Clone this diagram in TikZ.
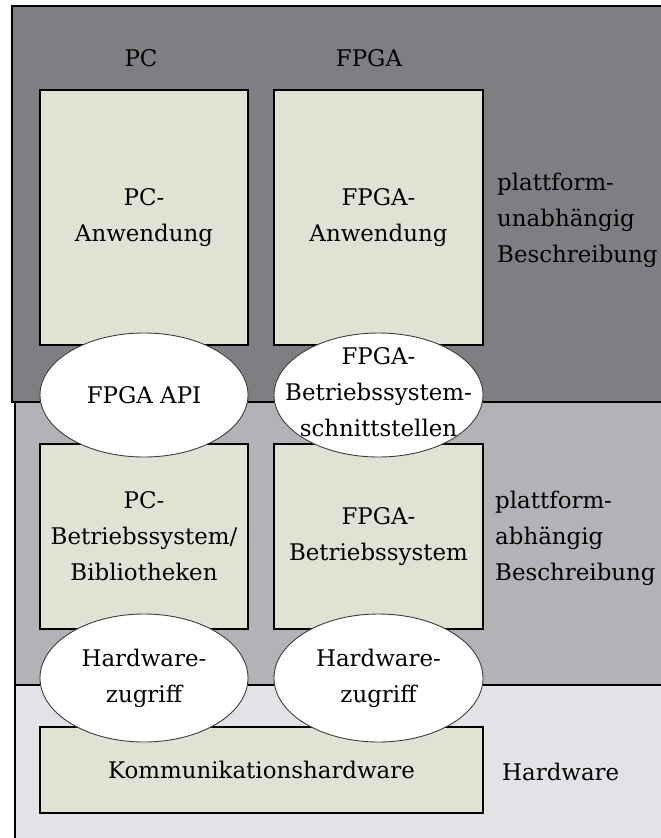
\documentclass[tikz,border=0pt]{standalone}
\usepackage{fontspec}
\setmainfont{DejaVu Serif}
\usetikzlibrary{shapes.geometric}

\definecolor{bandtop}{RGB}{128,126,131}
\definecolor{bandmid}{RGB}{180,177,183}
\definecolor{bandlow}{RGB}{228,226,230}
\definecolor{boxfill}{RGB}{225,226,211}
\definecolor{ovaledge}{RGB}{60,60,60}

\tikzset{
  txt/.style={font=\fontsize{23}{36}\selectfont, align=center, inner sep=0pt},
  layerbox/.style={draw=black, line width=1.1pt, fill=boxfill, rectangle,
    inner sep=0pt, txt},
  oval/.style={draw=ovaledge, line width=0.9pt, fill=white, ellipse,
    inner sep=0pt},
  sidelabel/.style={txt, align=left, anchor=west},
  band/.style={line width=1.1pt, draw=black},
}

\begin{document}
\begin{tikzpicture}[x=1bp, y=-1bp]
  \path[use as bounding box] (0,0) rectangle (661,838);
  \clip (0,0) rectangle (661,838);

  % layer bands
  \path[band, fill=bandlow] (15,685) rectangle (700,860);
  \path[band, fill=bandmid] (15,402) rectangle (700,685);
  \path[band, fill=bandtop] (12,6) rectangle (700,402);

  % column headings
  \node[txt] (hpc) at (141,58) {PC};
  \node[txt] (hfpga) at (369,58) {FPGA};

  % blocks
  \node[layerbox, minimum width=208bp, minimum height=255bp] (pcapp) at (144,217.5) {PC-\\Anwendung};
  \node[layerbox, minimum width=209bp, minimum height=255bp] (fpgaapp) at (378.5,217.5) {FPGA-\\Anwendung};
  \node[layerbox, minimum width=208bp, minimum height=185bp] (pcos) at (144,536.5) {PC-\\Betriebssystem/\\Bibliotheken};
  \node[layerbox, minimum width=209bp, minimum height=185bp] (fpgaos) at (378.5,536.5) {FPGA-\\Betriebssystem};
  \node[layerbox, minimum width=443bp, minimum height=86bp] (komm) at (261.5,770) {Kommunikationshardware};

  % interfaces: oval outlines, captions set on top
  \node[oval, minimum width=208bp, minimum height=124bp] (api) at (144,395) {};
  \node[oval, minimum width=209bp, minimum height=124bp] (osif) at (378.5,395) {};
  \node[oval, minimum width=208bp, minimum height=128bp] (hwpc) at (144,678) {};
  \node[oval, minimum width=209bp, minimum height=128bp] (hwfpga) at (378.5,678) {};
  \node[txt] (apitxt) at (api) {FPGA API};
  \node[txt] (osiftxt) at ([yshift=3bp]osif) {FPGA-\\Betriebssystem-\\schnittstellen};
  \node[txt] (hwpctxt) at (hwpc) {Hardware-\\zugriff};
  \node[txt] (hwfpgatxt) at (hwfpga) {Hardware-\\zugriff};

  % layer names
  \node[sidelabel] (lindep) at (497,220) {plattform-\\unabhängig\\Beschreibung};
  \node[sidelabel] (ldep) at (495,538) {plattform-\\abhängig\\Beschreibung};
  \node[sidelabel] (lhw) at (502,772) {Hardware};
\end{tikzpicture}
\end{document}
